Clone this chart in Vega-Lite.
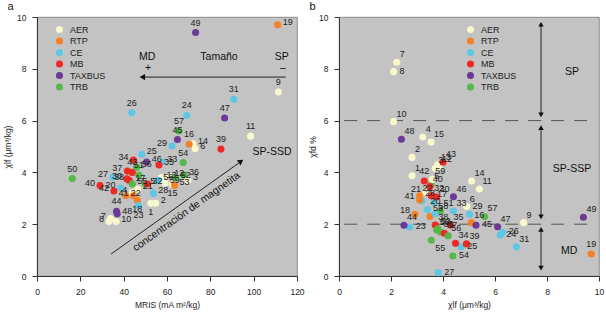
{
  "$schema": "https://vega.github.io/schema/vega-lite/v6.json",
  "padding": {"top": 0, "left": 3, "right": 0, "bottom": 0},
  "bounds": "flush",
  "spacing": 42,
  "background": "white",
  "config": {
    "font": "Liberation Sans",
    "view": {"fill": "#c3c3c3", "stroke": "#777777", "strokeWidth": 0.8},
    "axis": {"grid": false, "domainColor": "#333333", "tickColor": "#333333", "tickSize": 5, "labelFontSize": 8.5, "titleFontSize": 8.5, "titleFontWeight": "normal", "labelColor": "#222222", "titleColor": "#222222", "labelPadding": 6, "labelFlush": false},
    "legend": {"labelFontSize": 9, "labelColor": "#222222", "symbolSize": 50, "symbolStrokeWidth": 0, "rowPadding": 1.5, "labelOffset": 6, "padding": 0},
    "title": {"fontSize": 11, "fontWeight": "normal", "anchor": "start", "offset": 1, "color": "#111111"},
    "text": {"font": "Liberation Sans"}
  },
  "datasets": {
    "samples": [
      {"id": 1, "g": "AER", "mris": 52.5, "xlf": 2.81, "xfd": 3.87},
      {"id": 2, "g": "AER", "mris": 54.8, "xlf": 2.81, "xfd": 4.58},
      {"id": 3, "g": "AER", "mris": 69.7, "xlf": 3.7, "xfd": 4.16},
      {"id": 4, "g": "AER", "mris": 44, "xlf": 3.22, "xfd": 5.37},
      {"id": 5, "g": "TRB", "mris": 50, "xlf": 3.55, "xfd": 3.55},
      {"id": 6, "g": "AER", "mris": 73, "xlf": 4.91, "xfd": 2.68},
      {"id": 7, "g": "AER", "mris": 34, "xlf": 2.22, "xfd": 8.25},
      {"id": 8, "g": "AER", "mris": 33.2, "xlf": 2.1, "xfd": 7.89},
      {"id": 9, "g": "AER", "mris": 111.4, "xlf": 7.1, "xfd": 2.06},
      {"id": 10, "g": "AER", "mris": 36.6, "xlf": 2.1, "xfd": 5.96},
      {"id": 11, "g": "AER", "mris": 98.6, "xlf": 5.4, "xfd": 3.36},
      {"id": 12, "g": "AER", "mris": 61, "xlf": 3.85, "xfd": 4.22},
      {"id": 13, "g": "AER", "mris": 57.5, "xlf": 3.8, "xfd": 4.3},
      {"id": 14, "g": "AER", "mris": 72, "xlf": 5.1, "xfd": 3.67},
      {"id": 15, "g": "AER", "mris": 62.5, "xlf": 3.54, "xfd": 5.17},
      {"id": 16, "g": "RTP", "mris": 70.2, "xlf": 5.09, "xfd": 2.06},
      {"id": 17, "g": "CE", "mris": 43, "xlf": 3.65, "xfd": 2.85},
      {"id": 18, "g": "RTP", "mris": 46.3, "xlf": 2.92, "xfd": 2.38},
      {"id": 19, "g": "RTP", "mris": 111.1, "xlf": 9.7, "xfd": 0.85},
      {"id": 20, "g": "CE", "mris": 38.6, "xlf": 3.4, "xfd": 2.57},
      {"id": 21, "g": "AER", "mris": 46.5, "xlf": 3.35, "xfd": 3.22},
      {"id": 22, "g": "RTP", "mris": 41, "xlf": 3.1, "xfd": 3.1},
      {"id": 23, "g": "CE", "mris": 46.8, "xlf": 2.72, "xfd": 1.89},
      {"id": 24, "g": "CE", "mris": 69.1, "xlf": 6.2, "xfd": 1.58},
      {"id": 25, "g": "CE", "mris": 48.4, "xlf": 4.7, "xfd": 1.13},
      {"id": 26, "g": "CE", "mris": 43.7, "xlf": 6.3, "xfd": 1.69},
      {"id": 27, "g": "CE", "mris": 35.1, "xlf": 3.82, "xfd": 0.13},
      {"id": 28, "g": "CE", "mris": 53.7, "xlf": 3.19, "xfd": 2.9},
      {"id": 29, "g": "CE", "mris": 62.3, "xlf": 5.02, "xfd": 2.38},
      {"id": 30, "g": "MB", "mris": 41.5, "xlf": 3.75, "xfd": 3.05},
      {"id": 31, "g": "CE", "mris": 90.8, "xlf": 6.82, "xfd": 1.13},
      {"id": 32, "g": "MB", "mris": 51, "xlf": 3.55, "xfd": 3.1},
      {"id": 33, "g": "CE", "mris": 57.8, "xlf": 4.4, "xfd": 2.51},
      {"id": 34, "g": "MB", "mris": 44.5, "xlf": 4.48, "xfd": 1.26},
      {"id": 35, "g": "MB", "mris": 56.3, "xlf": 4.29, "xfd": 1.97},
      {"id": 36, "g": "TRB", "mris": 67.8, "xlf": 3.9, "xfd": 1.7},
      {"id": 37, "g": "MB", "mris": 41.7, "xlf": 4.05, "xfd": 1.65},
      {"id": 38, "g": "MB", "mris": 42.5, "xlf": 3.7, "xfd": 1.97},
      {"id": 39, "g": "MB", "mris": 84.9, "xlf": 4.9, "xfd": 1.24},
      {"id": 40, "g": "MB", "mris": 29.1, "xlf": 3.49, "xfd": 3.45},
      {"id": 41, "g": "RTP", "mris": 44.5, "xlf": 3.1, "xfd": 2.93},
      {"id": 42, "g": "MB", "mris": 35.5, "xlf": 3.28, "xfd": 3.67},
      {"id": 43, "g": "MB", "mris": 44, "xlf": 4.0, "xfd": 4.39},
      {"id": 44, "g": "TAXBUS", "mris": 36.7, "xlf": 2.5, "xfd": 1.96},
      {"id": 45, "g": "TAXBUS", "mris": 64.8, "xlf": 5.27, "xfd": 1.96},
      {"id": 46, "g": "TAXBUS", "mris": 50.6, "xlf": 4.4, "xfd": 3.06},
      {"id": 47, "g": "TAXBUS", "mris": 86.6, "xlf": 6.1, "xfd": 1.9},
      {"id": 48, "g": "TAXBUS", "mris": 37, "xlf": 2.4, "xfd": 5.28},
      {"id": 49, "g": "TAXBUS", "mris": 73.2, "xlf": 9.4, "xfd": 2.27},
      {"id": 50, "g": "TRB", "mris": 16.3, "xlf": 3.76, "xfd": 1.78},
      {"id": 51, "g": "TRB", "mris": 47, "xlf": 3.9, "xfd": 2.5},
      {"id": 52, "g": "TRB", "mris": 64, "xlf": 3.8, "xfd": 1.82},
      {"id": 53, "g": "RTP", "mris": 63.5, "xlf": 3.5, "xfd": 2.3},
      {"id": 54, "g": "TRB", "mris": 67.5, "xlf": 4.38, "xfd": 0.77},
      {"id": 55, "g": "TRB", "mris": 44, "xlf": 3.55, "xfd": 1.38},
      {"id": 56, "g": "TRB", "mris": 46, "xlf": 4.2, "xfd": 1.55},
      {"id": 57, "g": "TRB", "mris": 65.5, "xlf": 5.6, "xfd": 2.3},
      {"id": 58, "g": "CE", "mris": 56, "xlf": 3.7, "xfd": 2.4},
      {"id": 59, "g": "AER", "mris": 59, "xlf": 3.59, "xfd": 3.73}
    ]
  },
  "resolve": {"legend": {"color": "independent"}},
  "hconcat": [
    {
      "width": 260,
      "height": 259,
      "title": {"text": "a", "dx": 4},
      "layer": [
        {
          "data": {"values": [{"x": 114.8, "x2": 48.6, "y": 7.68}]},
          "mark": {"type": "rule", "color": "#222222", "strokeWidth": 1},
          "encoding": {
            "x": {"field": "x", "type": "quantitative", "scale": {"domain": [0, 120], "nice": false}},
            "x2": {"field": "x2"},
            "y": {"field": "y", "type": "quantitative", "scale": {"domain": [0, 10], "nice": false}}
          }
        },
        {
          "data": {"values": [{"x": 48.6, "y": 7.68}]},
          "mark": {"type": "point", "shape": "triangle-left", "filled": true, "color": "#111111", "size": 40, "opacity": 1},
          "encoding": {
            "x": {"field": "x", "type": "quantitative"},
            "y": {"field": "y", "type": "quantitative"}
          }
        },
        {
          "data": {"values": [{"x": 34.2, "x2": 93.6, "y": 0.85, "y2": 4.39}]},
          "mark": {"type": "rule", "color": "#222222", "strokeWidth": 1},
          "encoding": {
            "x": {"field": "x", "type": "quantitative"},
            "x2": {"field": "x2"},
            "y": {"field": "y", "type": "quantitative"},
            "y2": {"field": "y2"}
          }
        },
        {
          "data": {"values": [{"x": 94.15, "y": 4.43}]},
          "mark": {"type": "point", "shape": "triangle-up", "filled": true, "color": "#111111", "size": 40, "opacity": 1, "angle": 54.6},
          "encoding": {
            "x": {"field": "x", "type": "quantitative"},
            "y": {"field": "y", "type": "quantitative"}
          }
        },
        {
          "data": {"values": [
            {"x": 50.8, "y": 8.46, "t": "MD"},
            {"x": 51.3, "y": 8.05, "t": "+"},
            {"x": 84, "y": 8.46, "t": "Tamaño"},
            {"x": 113, "y": 8.46, "t": "SP"},
            {"x": 113.5, "y": 8.05, "t": "–"},
            {"x": 108.5, "y": 4.79, "t": "SP-SSD"}
          ]},
          "mark": {"type": "text", "fontSize": 10.5, "color": "#111111", "align": "center", "baseline": "middle"},
          "encoding": {
            "x": {"field": "x", "type": "quantitative"},
            "y": {"field": "y", "type": "quantitative"},
            "text": {"field": "t"}
          }
        },
        {
          "data": {"values": [{"x": 69, "y": 2.48, "t": "concentración de magnetita"}]},
          "mark": {"type": "text", "fontSize": 10.5, "color": "#111111", "align": "center", "baseline": "middle", "angle": -35.4},
          "encoding": {
            "x": {"field": "x", "type": "quantitative"},
            "y": {"field": "y", "type": "quantitative"},
            "text": {"field": "t"}
          }
        },
        {
          "data": {"name": "samples"},
          "mark": {"type": "circle", "size": 50, "opacity": 1},
          "encoding": {
            "x": {"field": "mris", "type": "quantitative", "title": "MRIS (mA m²/kg)", "axis": {"values": [0, 10, 20, 30, 40, 50, 60, 70, 80, 90, 100, 110, 120], "labelExpr": "datum.value % 20 === 0 ? datum.label : ''", "titlePadding": 5}},
            "y": {"field": "xlf", "type": "quantitative", "title": "χlf (μm³/kg)", "axis": {"values": [0, 1, 2, 3, 4, 5, 6, 7, 8, 9, 10], "labelExpr": "datum.value % 2 === 0 ? datum.label : ''", "titlePadding": 4}},
            "color": {"field": "g", "type": "nominal", "scale": {"domain": ["AER", "RTP", "CE", "MB", "TAXBUS", "TRB"], "range": ["#f9f7cc", "#f58025", "#5ec7e5", "#ee2a24", "#6b3a97", "#55b848"]}, "legend": {"orient": "none", "legendX": 18, "legendY": 8, "title": null}}
          }
        },
        {
          "data": {"name": "samples"},
          "transform": [{"filter": "indexof([19,6,14,36,3,10,48,5,33,35,13,12,52,53,58,32,28,46,25,22,21,2,59,17,55,56], datum.id) >= 0"}],
          "mark": {"type": "text", "fontSize": 9, "color": "#222222", "align": "left", "baseline": "middle", "dx": 5, "dy": -3},
          "encoding": {
            "x": {"field": "mris", "type": "quantitative"},
            "y": {"field": "xlf", "type": "quantitative"},
            "text": {"field": "id"}
          }
        },
        {
          "data": {"name": "samples"},
          "transform": [{"filter": "indexof([40,42,27,20,30,8,37,41,4,38,34,29,7], datum.id) >= 0"}],
          "mark": {"type": "text", "fontSize": 9, "color": "#222222", "align": "right", "baseline": "middle", "dx": -5, "dy": -3},
          "encoding": {
            "x": {"field": "mris", "type": "quantitative"},
            "y": {"field": "xlf", "type": "quantitative"},
            "text": {"field": "id"}
          }
        },
        {
          "data": {"name": "samples"},
          "transform": [{"filter": "indexof([1,15,23,18], datum.id) >= 0"}],
          "mark": {"type": "text", "fontSize": 9, "color": "#222222", "align": "center", "baseline": "top", "dy": 5},
          "encoding": {
            "x": {"field": "mris", "type": "quantitative"},
            "y": {"field": "xlf", "type": "quantitative"},
            "text": {"field": "id"}
          }
        },
        {
          "data": {"name": "samples"},
          "transform": [{"filter": "indexof([19,6,14,36,3,10,48,5,33,35,13,12,52,53,58,32,28,46,25,22,21,2,59,17,55,56,40,42,27,20,30,8,37,41,4,38,34,29,7,1,15,23,18], datum.id) < 0"}],
          "mark": {"type": "text", "fontSize": 9, "color": "#222222", "align": "center", "baseline": "bottom", "dy": -5},
          "encoding": {
            "x": {"field": "mris", "type": "quantitative"},
            "y": {"field": "xlf", "type": "quantitative"},
            "text": {"field": "id"}
          }
        }
      ]
    },
    {
      "width": 260,
      "height": 259,
      "title": {"text": "b", "dx": 1},
      "layer": [
        {
          "data": {"values": [{"x": 0.2, "x2": 9.8, "y": 6}, {"x": 0.2, "x2": 9.8, "y": 2}]},
          "mark": {"type": "rule", "color": "#555555", "strokeWidth": 1, "strokeDash": [13, 10]},
          "encoding": {
            "x": {"field": "x", "type": "quantitative", "scale": {"domain": [0, 10], "nice": false}},
            "x2": {"field": "x2"},
            "y": {"field": "y", "type": "quantitative", "scale": {"domain": [0, 10], "nice": false}}
          }
        },
        {
          "data": {"values": [{"x": 7.77, "y": 6.22, "y2": 9.72}, {"x": 7.77, "y": 2.28, "y2": 5.73}, {"x": 7.77, "y": 0.3, "y2": 1.8}]},
          "mark": {"type": "rule", "color": "#222222", "strokeWidth": 1},
          "encoding": {
            "x": {"field": "x", "type": "quantitative"},
            "y": {"field": "y", "type": "quantitative"},
            "y2": {"field": "y2"}
          }
        },
        {
          "data": {"values": [{"x": 7.77, "y": 9.72}, {"x": 7.77, "y": 5.73}, {"x": 7.77, "y": 1.8}]},
          "mark": {"type": "point", "shape": "triangle-up", "filled": true, "color": "#111111", "size": 30, "opacity": 1},
          "encoding": {
            "x": {"field": "x", "type": "quantitative"},
            "y": {"field": "y", "type": "quantitative"}
          }
        },
        {
          "data": {"values": [{"x": 7.77, "y": 6.22}, {"x": 7.77, "y": 2.28}, {"x": 7.77, "y": 0.3}]},
          "mark": {"type": "point", "shape": "triangle-down", "filled": true, "color": "#111111", "size": 30, "opacity": 1},
          "encoding": {
            "x": {"field": "x", "type": "quantitative"},
            "y": {"field": "y", "type": "quantitative"}
          }
        },
        {
          "data": {"values": [
            {"x": 8.96, "y": 7.88, "t": "SP"},
            {"x": 8.96, "y": 4.13, "t": "SP-SSP"},
            {"x": 8.85, "y": 0.97, "t": "MD"}
          ]},
          "mark": {"type": "text", "fontSize": 10.5, "color": "#111111", "align": "center", "baseline": "middle"},
          "encoding": {
            "x": {"field": "x", "type": "quantitative"},
            "y": {"field": "y", "type": "quantitative"},
            "text": {"field": "t"}
          }
        },
        {
          "data": {"name": "samples"},
          "mark": {"type": "circle", "size": 50, "opacity": 1},
          "encoding": {
            "x": {"field": "xlf", "type": "quantitative", "title": "χlf (μm³/kg)", "axis": {"values": [0, 1, 2, 3, 4, 5, 6, 7, 8, 9, 10], "labelExpr": "datum.value % 2 === 0 ? datum.label : ''", "titlePadding": 5}},
            "y": {"field": "xfd", "type": "quantitative", "title": "χfd %", "axis": {"values": [0, 1, 2, 3, 4, 5, 6, 7, 8, 9, 10], "labelExpr": "datum.value % 2 === 0 ? datum.label : ''", "titlePadding": 1}},
            "color": {"field": "g", "type": "nominal", "legend": {"orient": "none", "legendX": 127, "legendY": 8, "title": null, "encode": {"symbols": {"update": {"opacity": {"signal": "datum.value === 'CE' ? 0 : 1"}}}}}}
          }
        },
        {
          "data": {"name": "samples"},
          "transform": [{"filter": "indexof([8,45,26,24,54,25,27,23], datum.id) >= 0"}],
          "mark": {"type": "text", "fontSize": 9, "color": "#222222", "align": "left", "baseline": "middle", "dx": 6, "dy": -1},
          "encoding": {
            "x": {"field": "xlf", "type": "quantitative"},
            "y": {"field": "xfd", "type": "quantitative"},
            "text": {"field": "id"}
          }
        },
        {
          "data": {"name": "samples"},
          "transform": [{"filter": "indexof([21,41,18], datum.id) >= 0"}],
          "mark": {"type": "text", "fontSize": 9, "color": "#222222", "align": "right", "baseline": "middle", "dx": -5, "dy": -4},
          "encoding": {
            "x": {"field": "xlf", "type": "quantitative"},
            "y": {"field": "xfd", "type": "quantitative"},
            "text": {"field": "id"}
          }
        },
        {
          "data": {"name": "samples"},
          "transform": [{"filter": "indexof([19,42], datum.id) >= 0"}],
          "mark": {"type": "text", "fontSize": 9, "color": "#222222", "align": "center", "baseline": "bottom", "dy": -5},
          "encoding": {
            "x": {"field": "xlf", "type": "quantitative"},
            "y": {"field": "xfd", "type": "quantitative"},
            "text": {"field": "id"}
          }
        },
        {
          "data": {"name": "samples"},
          "transform": [{"filter": "indexof([55], datum.id) >= 0"}],
          "mark": {"type": "text", "fontSize": 9, "color": "#222222", "align": "left", "baseline": "top", "dx": 4, "dy": 4},
          "encoding": {
            "x": {"field": "xlf", "type": "quantitative"},
            "y": {"field": "xfd", "type": "quantitative"},
            "text": {"field": "id"}
          }
        },
        {
          "data": {"name": "samples"},
          "transform": [{"filter": "indexof([8,45,26,24,54,25,27,23,21,41,18,19,42,55], datum.id) < 0"}],
          "mark": {"type": "text", "fontSize": 9, "color": "#222222", "align": "left", "baseline": "middle", "dx": 3, "dy": -8},
          "encoding": {
            "x": {"field": "xlf", "type": "quantitative"},
            "y": {"field": "xfd", "type": "quantitative"},
            "text": {"field": "id"}
          }
        }
      ]
    }
  ]
}
